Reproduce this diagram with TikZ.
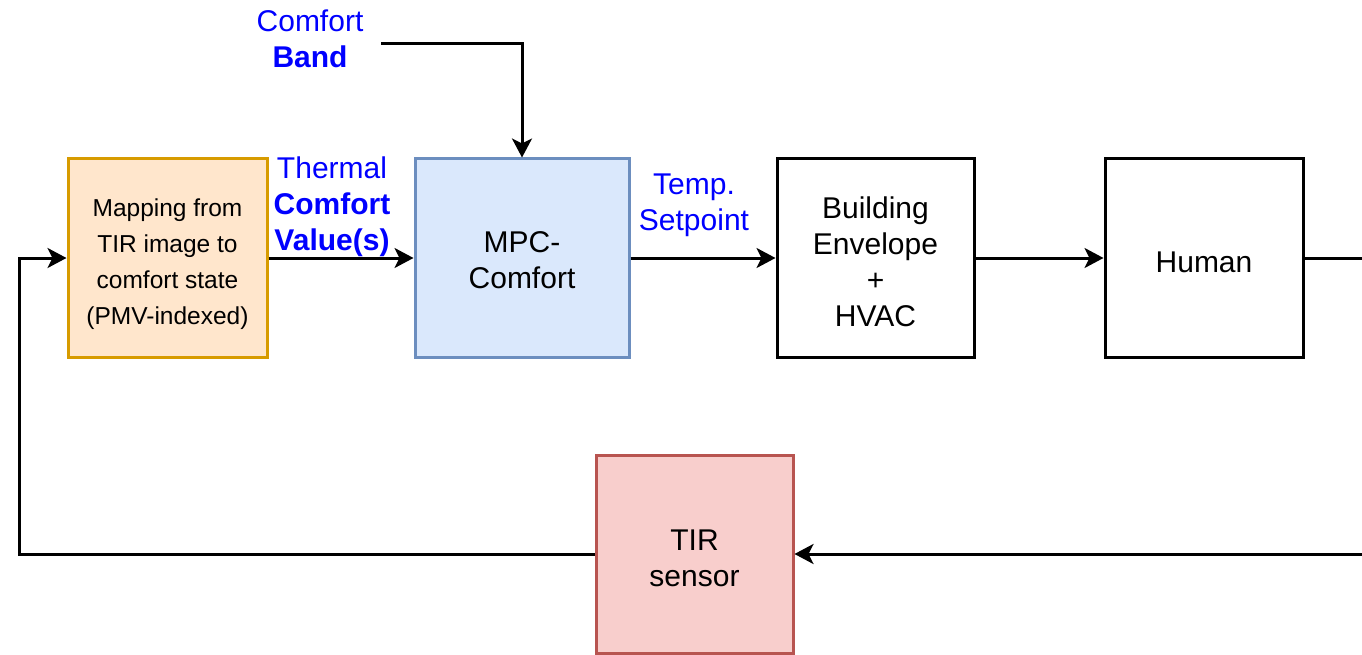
\documentclass[tikz,border=0pt]{standalone}
\usepackage{fontspec}
\setmainfont{Liberation Sans}
\usetikzlibrary{arrows.meta}
\definecolor{orfill}{HTML}{FFE6CC}
\definecolor{ordraw}{HTML}{D79B00}
\definecolor{blfill}{HTML}{DAE8FC}
\definecolor{bldraw}{HTML}{6C8EBF}
\definecolor{rdfill}{HTML}{F8CECC}
\definecolor{rddraw}{HTML}{B85450}
\definecolor{lblue}{HTML}{0000FF}
\tikzset{
  blk/.style={draw=black, line width=3pt, minimum width=198pt, minimum height=198pt, inner sep=0pt},
  btxt/.style={align=center, inner sep=0pt, font=\fontsize{30}{36}\selectfont},
  lbl/.style={text=lblue, align=center, inner sep=0pt, font=\fontsize{30}{36}\selectfont},
  conn/.style={line width=3pt, draw=black, -{Stealth[length=19pt,width=20pt,inset=5pt]}},
}
\begin{document}
\begin{tikzpicture}[x=1pt,y=-1pt]
\useasboundingbox (0,0) rectangle (1362,655);
\clip (0,0) rectangle (1362,655);
\node[blk, fill=orfill, draw=ordraw, minimum width=199pt,
  label={[btxt, font=\fontsize{24.5}{36}\selectfont, yshift=-6pt]center:{Mapping from\\TIR image to\\comfort state\\(PMV-indexed)}}] (map) at (167.5,258) {};
\node[blk, fill=blfill, draw=bldraw, minimum width=214pt,
  label={[btxt, yshift=-2pt]center:{MPC-\\Comfort}}] (mpc) at (522,258) {};
\node[blk, minimum width=197pt,
  label={[btxt, yshift=-4pt]center:{Building\\Envelope\\+\\HVAC}}] (bld) at (875.5,258) {};
\node[blk, label={[btxt, yshift=-4pt]center:{Human}}] (hum) at (1204,258) {};
\node[blk, fill=rdfill, draw=rddraw, minimum width=197pt,
  label={[btxt, yshift=-4pt]center:{TIR\\sensor}}] (tir) at (694.5,554) {};
\node[lbl] (band) at (310,38.5) {Comfort\\\textbf{Band}};
\node[lbl] (tcv) at (332,206.5) {Thermal\\\textbf{Comfort}\\\textbf{Value(s)}};
\node[lbl] (tsp) at (694,205.5) {Temp.\\Setpoint};
\coordinate (bandstart) at (381,44);
\coordinate (leftc) at (19,554);
\coordinate (rightc) at (1380,258);
\draw[conn] (bandstart) -| (mpc.north);
\draw[conn] (map.east) -- (mpc.west);
\draw[conn] (mpc.east) -- (bld.west);
\draw[conn] (bld.east) -- (hum.west);
\draw[conn] (hum.east) -- (rightc) |- (tir.east);
\draw[conn] (tir.west) -- (leftc) |- (map.west);
\end{tikzpicture}
\end{document}
